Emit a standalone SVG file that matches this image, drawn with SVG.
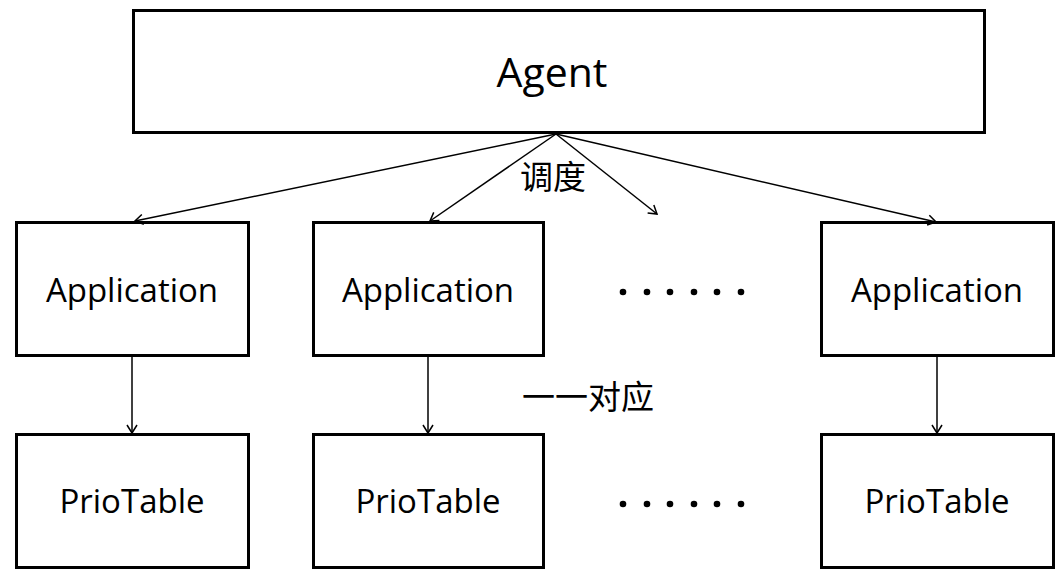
<svg xmlns="http://www.w3.org/2000/svg" width="1063" height="578" viewBox="0 0 1063 578">
<style>
.box{fill:#fff;stroke:#000;stroke-width:3}
.t{font-family:"Open Sans","Noto Sans CJK SC",sans-serif;fill:#000;text-anchor:middle}
.c{stroke:#000;stroke-width:1.5;fill:none;marker-end:url(#ah)}
.d{fill:#000}
</style>
<defs>
<marker id="ah" markerWidth="12" markerHeight="12" refX="10" refY="6" orient="auto" markerUnits="userSpaceOnUse">
<path d="M2,1 L10,6 L2,11" fill="none" stroke="#000" stroke-width="1.5"/>
</marker>
</defs>
<rect width="1063" height="578" fill="#fff"/>
<g id="agent"><rect class="box" x="133.5" y="10.5" width="851" height="122"/><text class="t" x="552" y="87" font-size="41">Agent</text></g>
<g id="app1"><rect class="box" x="16.5" y="222.5" width="232" height="133"/><text class="t" x="132" y="302" font-size="33">Application</text></g>
<g id="app2"><rect class="box" x="313.5" y="222.5" width="230" height="133"/><text class="t" x="428" y="302" font-size="33">Application</text></g>
<g id="app3"><rect class="box" x="821.5" y="222.5" width="232" height="133"/><text class="t" x="937" y="302" font-size="33">Application</text></g>
<g id="prio1"><rect class="box" x="16.5" y="434.5" width="232" height="133"/><text class="t" x="132" y="513" font-size="33">PrioTable</text></g>
<g id="prio2"><rect class="box" x="313.5" y="434.5" width="230" height="133"/><text class="t" x="428" y="513" font-size="33">PrioTable</text></g>
<g id="prio3"><rect class="box" x="821.5" y="434.5" width="232" height="133"/><text class="t" x="937" y="513" font-size="33">PrioTable</text></g>
<g id="connectors">
<line class="c" x1="556" y1="134" x2="135" y2="221"/>
<line class="c" x1="556" y1="134" x2="430" y2="221"/>
<line class="c" x1="556" y1="134" x2="657" y2="214"/>
<line class="c" x1="556" y1="134" x2="936" y2="222"/>
<line class="c" x1="132" y1="357" x2="132" y2="433"/>
<line class="c" x1="428" y1="357" x2="428" y2="433"/>
<line class="c" x1="937" y1="357" x2="937" y2="433"/>
</g>
<g id="labels">
<text class="t" x="553" y="189" font-size="33">调度</text>
<text class="t" x="588" y="409" font-size="33">一一对应</text>
</g>
<g id="dots1">
<circle class="d" cx="623" cy="292" r="3.3"/><circle class="d" cx="647" cy="292" r="3.3"/><circle class="d" cx="670" cy="292" r="3.3"/><circle class="d" cx="694" cy="292" r="3.3"/><circle class="d" cx="717" cy="292" r="3.3"/><circle class="d" cx="741" cy="292" r="3.3"/>
</g>
<g id="dots2">
<circle class="d" cx="623" cy="504" r="3.3"/><circle class="d" cx="647" cy="504" r="3.3"/><circle class="d" cx="670" cy="504" r="3.3"/><circle class="d" cx="694" cy="504" r="3.3"/><circle class="d" cx="717" cy="504" r="3.3"/><circle class="d" cx="741" cy="504" r="3.3"/>
</g>
</svg>
